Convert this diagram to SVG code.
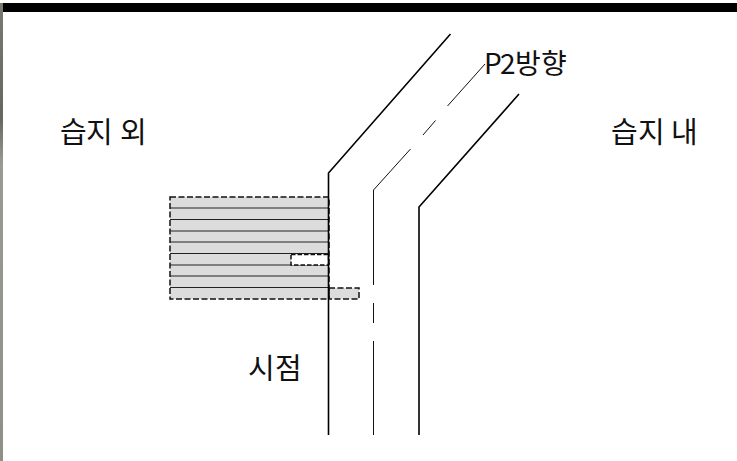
<svg xmlns="http://www.w3.org/2000/svg" width="737" height="461" viewBox="0 0 737 461">
<defs>
<linearGradient id="strip" x1="0" y1="0" x2="0" y2="1">
<stop offset="0" stop-color="#7a7a70"/>
<stop offset="0.25" stop-color="#66665e"/>
<stop offset="0.35" stop-color="#9a9a94"/>
<stop offset="1" stop-color="#8f8f88"/>
</linearGradient>
</defs>
<style>
.road{fill:none;stroke:#000;stroke-width:1.6}
.center{fill:none;stroke:#111;stroke-width:1}
.hatch{fill:#dcdcdc;stroke:#111;stroke-width:1.5;stroke-dasharray:6 2.500}
.white{fill:#fff;stroke:#111;stroke-width:1.5;stroke-dasharray:4.500 2}
.row{stroke:#222;stroke-width:1}
text{font-family:"Noto Sans CJK KR","Noto Sans",sans-serif;font-size:29px;fill:#111}
</style>
<rect width="737" height="461" fill="#fff"/>
<g id="frame">
<rect x="3" y="3" width="734" height="9" fill="#000"/>
<rect x="0" y="3" width="3" height="458" fill="url(#strip)"/>
</g>
<g id="hatched-area">
<rect class="hatch" x="329" y="288" width="30" height="11"/>
<rect class="hatch" x="170" y="197" width="159" height="102"/>
<path class="row" d="M170 208H329M170 219.500H329M170 231H329M170 242H329M170 253.500H329M170 265H329M170 276H329M170 287.500H329"/>
<rect class="white" x="291" y="254.500" width="37.500" height="10.500"/>
</g>
<g id="connectors">
<path class="road" d="M328.500 435V173L450.500 34"/>
<path class="road" d="M419 435V207L519 94"/>
<path class="center" d="M373.500 435V341M373.500 323V303M373.500 285V190L410.500 149M423 135L435.500 120.500M447.500 106L485 64"/>
</g>
<g id="label-p2"><text x="484 500 515 541" y="74" style="font-size:28px">P2방향</text></g>
<g id="label-out"><text x="60 86 110 120" y="143">습지 외</text></g>
<g id="label-in"><text x="611 638 662 671" y="143">습지 내</text></g>
<g id="label-start"><text x="248 275" y="379">시점</text></g>
</svg>
